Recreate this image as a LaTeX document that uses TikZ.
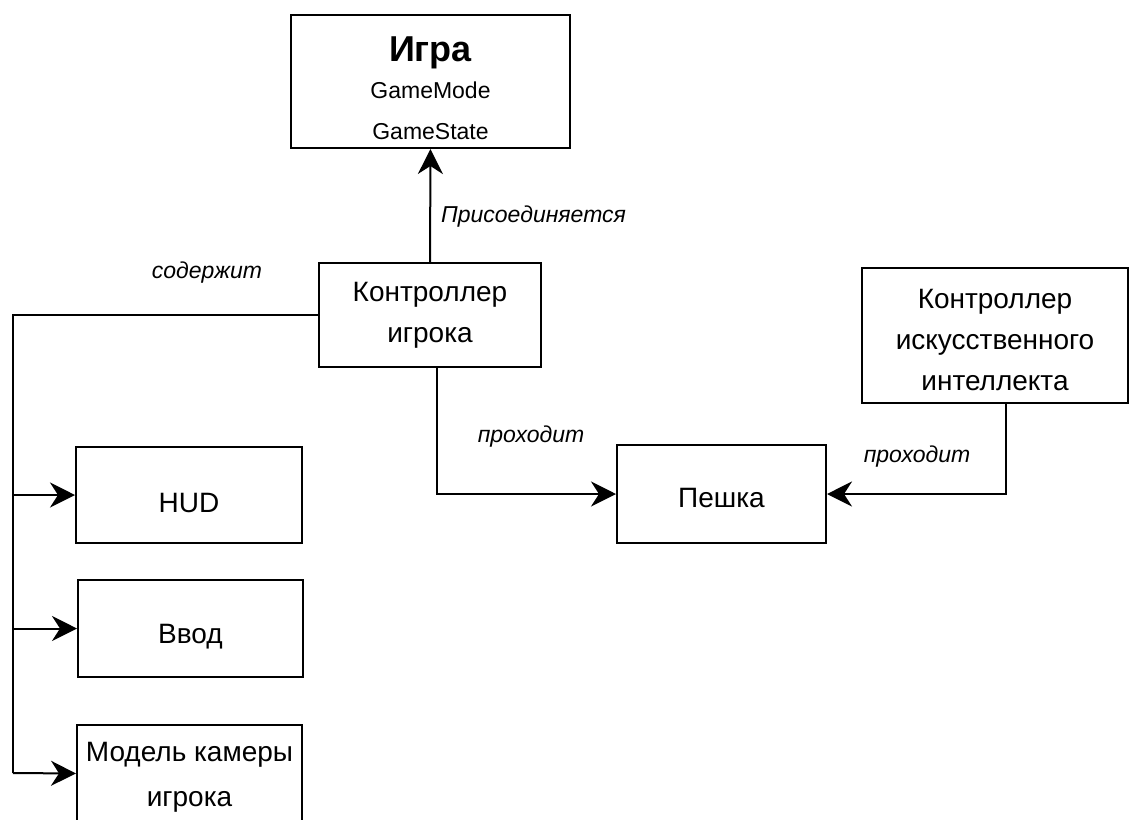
\documentclass[tikz,border=0pt]{standalone}
\usepackage{fontspec}
\setmainfont{Liberation Sans}
\usepackage{tikz}
\usetikzlibrary{calc,positioning,arrows,arrows.meta}

\begin{document}
\begin{tikzpicture}[x=0.5pt,y=-0.5pt]
\tikzstyle{box} = [draw, line width=1pt, align=center, inner sep=2pt, font=\fontsize{14}{20.5}\selectfont];
\tikzstyle{conn} = [line width=1pt, -{Stealth[length=12.5pt,width=12.5pt,inset=4pt]}];
\tikzstyle{lbl} = [font=\fontsize{11.5}{14}\selectfont\itshape, inner sep=0pt];
\clip (0,0) rectangle (1129,819);
% boxes
\node[box, minimum width=139.5pt, minimum height=66.5pt, font=\fontsize{11.5}{20.5}\selectfont] (G) at (430.5,81.5) {{\fontsize{18}{20.5}\selectfont\bfseries\rule{0pt}{19pt}Игра}\\[-2pt]GameMode\\GameState};
\node[box, minimum width=111pt, minimum height=52pt] (PC) at (430,315) {Контроллер\\игрока};
\node[box, minimum width=133pt, minimum height=67.5pt] (AI) at (995,335.5) {\rule{0pt}{14pt}Контроллер\\искусственного\\интеллекта};
\node[box, minimum width=104.5pt, minimum height=49pt, text height=14pt, text depth=1pt] (P) at (721.5,494) {Пешка};
\node[box, minimum width=113pt, minimum height=48pt, text height=18pt, text depth=1pt] (H) at (189,495) {HUD};
\node[box, minimum width=112.5pt, minimum height=48.5pt, text height=16pt, text depth=1pt] (I) at (190.5,628.5) {Ввод};
\node[box, minimum width=112.5pt, minimum height=48.5pt] (C) at (189.5,773.5) {\rule{0pt}{13pt}Модель камеры\\[2pt]игрока};
% bus on the left
\coordinate (T) at (13,315);
\coordinate (B) at (13,773);
\draw[line width=1pt] (PC.west) -- (T) -- (B);
\draw[conn] (T |- H.west) -- (H.west);
\draw[conn] (T |- I.west) -- (I.west);
\draw[conn] (B) -- (C.west);
% other links
\draw[conn] (PC.north) -- (G.south) node[lbl, pos=0.4, right=5pt] (L1) {Присоединяется};
\draw[conn] ([xshift=3.5pt]PC.south) |- (P.west);
\draw[conn] ([xshift=5.5pt]AI.south) |- (P.east);
\node[lbl] (L2) at (207,273) {содержит};
\node[lbl] (L3) at (531,437) {проходит};
\node[lbl] (L4) at (917,457) {проходит};
\end{tikzpicture}
\end{document}
